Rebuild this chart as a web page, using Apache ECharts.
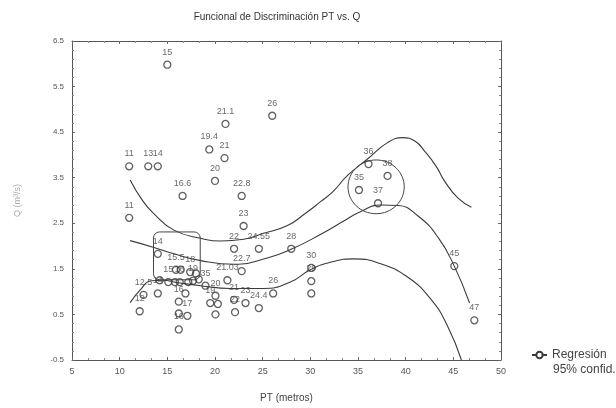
<!DOCTYPE html>
<html>
<head>
<meta charset="utf-8">
<script src="https://cdn.jsdelivr.net/npm/echarts@6/dist/echarts.min.js"></script>
<style>html,body{margin:0;padding:0;background:#fff}#c{width:616px;height:408px}</style>
</head>
<body>
<div id="c"></div>
<script>
// ---- data ----
var ptX = [15.0, 21.1, 26.0, 19.4, 21.0, 11.0, 13.0, 14.0, 20.0, 16.6, 22.8, 11.0, 23.0, 22.0, 24.6, 28.0, 22.8, 30.1, 30.1, 30.1, 26.1, 23.2, 24.6, 22.1, 35.1, 36.1, 38.1, 37.1, 45.1, 47.2,
           14.0, 15.9, 16.4, 17.4, 18.0, 14.2, 15.1, 15.8, 16.3, 17.2, 17.7, 18.3, 19.0, 12.5, 14.0, 16.9, 16.2, 12.1, 16.2, 17.1, 16.2, 21.3, 20.05, 19.5, 20.3, 22.0, 20.05];
var ptY = [5.98, 4.68, 4.86, 4.12, 3.93, 3.75, 3.75, 3.75, 3.43, 3.1, 3.1, 2.62, 2.44, 1.94, 1.94, 1.94, 1.45, 1.52, 1.23, 0.96, 0.96, 0.75, 0.64, 0.55, 3.23, 3.8, 3.54, 2.94, 1.56, 0.37,
           1.83, 1.48, 1.48, 1.43, 1.4, 1.25, 1.21, 1.21, 1.21, 1.21, 1.24, 1.27, 1.13, 0.93, 0.96, 0.96, 0.78, 0.57, 0.52, 0.47, 0.17, 1.25, 0.91, 0.75, 0.73, 0.82, 0.5];
var ptLabel = ["15", "21.1", "26", "19.4", "21", "11", "13", "14", "20", "16.6", "22.8", "11", "23", "22", "24.55", "28", "22.7", "30", "29", "", "26", "23", "24.4", "22", "35", "36", "38", "37", "45", "47",
           "14", "15.5", "", "18", "", "", "15", "", "16", "", "19", "", "35", "12.5", "14", "", "16", "12", "", "17", "16", "21.03", "20", "19", "", "21", ""];

var upperX = [11.1, 12.3, 13.5, 15.7, 18.5, 20.6, 23.0, 25.1, 27.6, 29.5, 31.1, 32.4, 33.9, 36.0, 38.1, 39.7, 41.0, 42.0, 43.2, 44.1, 45.5, 46.9];
var upperY = [3.45, 3.03, 2.73, 2.35, 2.17, 2.11, 2.15, 2.28, 2.45, 2.72, 2.98, 3.2, 3.55, 3.91, 4.27, 4.38, 4.3, 4.08, 3.75, 3.42, 3.05, 2.85];
var midX = [11.1, 13.6, 15.7, 18.5, 22.0, 25.5, 28.1, 31.1, 33.5, 35.3, 37.4, 39.2, 41.3, 43.4, 45.1, 46.7];
var midY = [2.12, 1.97, 1.83, 1.68, 1.6, 1.74, 1.94, 2.26, 2.55, 2.76, 2.9, 2.89, 2.66, 2.19, 1.56, 0.75];
var lowerX = [11.1, 12.2, 13.3, 14.5, 16.0, 18.5, 21.6, 25.1, 27.9, 30.0, 32.2, 34.6, 37.4, 40.2, 42.7, 44.4, 45.85];
var lowerY = [0.76, 1.05, 1.24, 1.25, 1.2, 1.13, 1.07, 1.07, 1.21, 1.48, 1.65, 1.72, 1.61, 1.32, 0.82, 0.24, -0.5];

var xTicks = [5, 10, 15, 20, 25, 30, 35, 40, 45, 50];
var yTicks = [-0.5, 0.5, 1.5, 2.5, 3.5, 4.5, 5.5, 6.5];

// annotation shapes in data units
var boxCorners = [13.55, 2.31, 18.45, 1.26];   // x1, y1, x2, y2
var ringCenter = [36.9, 3.3];
var ringRadius = [2.95, 0.59];                   // x units, y units

var FONT = '"Liberation Sans", Arial, sans-serif';
var INK = '#3a3a3a';

function pairs(xs, ys) { return xs.map(function (x, i) { return [x, ys[i]]; }); }
var points = ptX.map(function (x, i) { return [x, ptY[i], ptLabel[i]]; });

var chart = echarts.init(document.getElementById('c'), null, { renderer: 'canvas' });

var axisCommon = {
  axisLine: { show: true, onZero: false, lineStyle: { color: '#555', width: 1 } },
  axisTick: { show: true, inside: true, length: 3, lineStyle: { color: '#666' } },
  splitLine: { show: false },
  minorSplitLine: { show: false }
};

function xAx(pos, labels) {
  return Object.assign({}, axisCommon, {
    type: 'value', position: pos, min: xTicks[0], max: xTicks[xTicks.length - 1], interval: 5,
    minorTick: { show: true, splitNumber: 3, length: 2, lineStyle: { color: '#888' } },
    axisLabel: { show: labels, color: '#555', fontSize: 9, fontFamily: FONT, margin: 7 },
    name: labels ? 'PT (metros)' : '', nameLocation: 'middle', nameGap: 33,
    nameTextStyle: { color: '#444', fontSize: 10, fontFamily: FONT }
  });
}
function yAx(pos, labels) {
  return Object.assign({}, axisCommon, {
    type: 'value', position: pos, min: yTicks[0], max: yTicks[yTicks.length - 1], interval: 1,
    minorTick: { show: true, splitNumber: 5, length: 2, lineStyle: { color: '#888' } },
    axisLabel: { show: labels, color: '#555', fontSize: 8, fontFamily: FONT, margin: 8,
      formatter: function (v) { return v.toFixed(1); } },
    name: labels ? 'Q (m³/s)' : '', nameLocation: 'middle', nameGap: 50, nameRotate: 90,
    nameTextStyle: { color: '#aaa', fontSize: 9, fontFamily: FONT }
  });
}

var lineStyle = { color: INK, width: 1.1 };

chart.setOption({
  animation: false,
  backgroundColor: '#fff',
  title: {
    text: 'Funcional de Discriminación PT vs. Q',
    left: 272, top: 7, textAlign: 'center',
    textStyle: { fontSize: 10, fontWeight: 'normal', color: '#333', fontFamily: FONT }
  },
  grid: { left: 72, right: 115, top: 41, bottom: 46 },
  legend: {
    data: [{ name: 'Regresión' }],
    left: 531, top: 349, padding: 0, itemWidth: 15, itemHeight: 8, itemGap: 0,
    textStyle: { fontSize: 12, color: '#444', fontFamily: FONT },
    selectedMode: false
  },
  xAxis: [xAx('bottom', true), xAx('top', false)],
  yAxis: [yAx('left', true), yAx('right', false)],
  series: [
    {
      name: 'Puntos', type: 'scatter', data: points,
      symbol: 'circle', symbolSize: 7,
      itemStyle: { color: 'rgba(255,255,255,0)', borderColor: INK, borderWidth: 1.3 },
      label: {
        show: true, position: 'top', distance: 4,
        formatter: function (p) { return p.value[2]; },
        fontSize: 9, color: '#444', fontFamily: FONT
      },
      labelLayout: { hideOverlap: false },
      z: 3
    },
    {
      name: 'Regresión', type: 'line', data: pairs(midX, midY), smooth: true,
      symbol: 'emptyCircle', symbolSize: 6, showSymbol: false,
      itemStyle: { color: INK }, lineStyle: lineStyle, clip: true
    },
    {
      name: 'Superior', type: 'line', data: pairs(upperX, upperY), smooth: true,
      showSymbol: false, symbol: 'none', lineStyle: lineStyle, clip: true
    },
    {
      name: 'Inferior', type: 'line', data: pairs(lowerX, lowerY), smooth: true,
      showSymbol: false, symbol: 'none', lineStyle: lineStyle, clip: true
    }
  ]
});

// annotation shapes placed through the axes
var p1 = chart.convertToPixel({ xAxisIndex: 0, yAxisIndex: 0 }, [boxCorners[0], boxCorners[1]]);
var p2 = chart.convertToPixel({ xAxisIndex: 0, yAxisIndex: 0 }, [boxCorners[2], boxCorners[3]]);
var c0 = chart.convertToPixel({ xAxisIndex: 0, yAxisIndex: 0 }, ringCenter);
var cx = chart.convertToPixel({ xAxisIndex: 0, yAxisIndex: 0 }, [ringCenter[0] + ringRadius[0], ringCenter[1] + ringRadius[1]]);

chart.setOption({
  graphic: [
    {
      type: 'rect', silent: true,
      shape: { x: p1[0], y: p1[1], width: p2[0] - p1[0], height: p2[1] - p1[1], r: 6 },
      style: { fill: 'none', stroke: '#444', lineWidth: 1 }, z: 10
    },
    {
      type: 'ellipse', silent: true,
      shape: { cx: c0[0], cy: c0[1], rx: cx[0] - c0[0], ry: c0[1] - cx[1] },
      style: { fill: 'none', stroke: '#444', lineWidth: 1 }, z: 10
    },
    {
      type: 'text', left: 553, top: 364, silent: true,
      style: { text: '95% confid.', fontSize: 12, fill: '#444', font: '12px ' + FONT }
    }
  ]
});
</script>
</body>
</html>
